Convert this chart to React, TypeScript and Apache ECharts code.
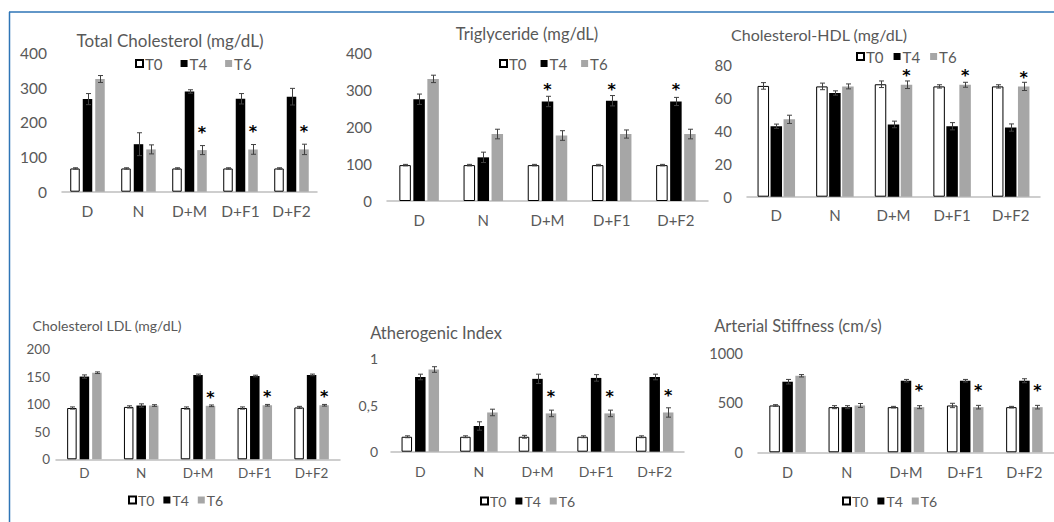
import React, { useEffect, useRef } from 'react';
import * as echarts from 'echarts';

const categories = ['D', 'N', 'D+M', 'D+F1', 'D+F2'];
const seriesNames = ['T0', 'T4', 'T6'];

// Total Cholesterol (mg/dL)
const tcT0 = [67, 67, 67, 67, 67];
const tcT4 = [267, 137, 289, 268, 274];
const tcT6 = [325, 122, 120, 122, 122];
const tcErrT0 = [2, 2, 2, 2, 2];
const tcErrT4 = [16, 33, 5, 15, 24];
const tcErrT6 = [10, 13, 13, 14, 15];
const tcStars = [false, false, true, true, true];

// Triglyceride (mg/dL)
const tgT0 = [97, 97, 97, 97, 97];
const tgT4 = [275, 118, 269, 271, 269];
const tgT6 = [330, 181, 177, 181, 181];
const tgErrT0 = [2, 2, 2, 2, 2];
const tgErrT4 = [14, 14, 14, 14, 11];
const tgErrT6 = [10, 13, 13, 11, 13];
const tgStars = [false, false, true, true, true];

// Cholesterol-HDL (mg/dL)
const hdlT0 = [67.3, 67, 68.3, 67, 67];
const hdlT4 = [42.8, 63, 43.9, 42.8, 42];
const hdlT6 = [47, 67, 68, 68, 67];
const hdlErrT0 = [2, 2, 2, 1, 1];
const hdlErrT4 = [1.3, 1.3, 2, 2.2, 2.2];
const hdlErrT6 = [2.5, 1.5, 2.3, 1.5, 2.5];
const hdlStars = [false, false, true, true, true];

// Cholesterol LDL (mg/dL)
const ldlT0 = [93, 95, 93, 93, 94];
const ldlT4 = [150, 97.5, 153, 151, 153];
const ldlT6 = [157, 97.5, 97, 98, 98];
const ldlErrT0 = [2, 2, 2, 2, 2];
const ldlErrT4 = [3, 3, 1.5, 1.5, 1.5];
const ldlErrT6 = [1.5, 1.5, 1.5, 1.5, 1.5];
const ldlStars = [false, false, true, true, true];

// Atherogenic Index
const aiT0 = [0.16, 0.16, 0.16, 0.16, 0.16];
const aiT4 = [0.8, 0.275, 0.78, 0.79, 0.8];
const aiT6 = [0.88, 0.42, 0.41, 0.41, 0.42];
const aiErrT0 = [0.01, 0.01, 0.015, 0.01, 0.01];
const aiErrT4 = [0.03, 0.045, 0.05, 0.035, 0.03];
const aiErrT6 = [0.03, 0.035, 0.035, 0.035, 0.05];
const aiStars = [false, false, true, true, true];

// Arterial Stiffness (cm/s)
const asT0 = [473, 456, 456, 473, 456];
const asT4 = [713, 456, 723, 723, 723];
const asT6 = [773, 473, 456, 456, 456];
const asErrT0 = [8, 15, 8, 22, 8];
const asErrT4 = [23, 15, 13, 13, 20];
const asErrT6 = [12, 20, 15, 18, 18];
const asStars = [false, false, true, true, true];

const FONT = 'Lato, "Noto Sans", sans-serif';
const STAR_FONT = '"DejaVu Sans", sans-serif';
const TEXT = '#595959';
const BAR_COLORS = ['#ffffff', '#000000', '#A6A6A6'];

type Panel = {
  title: string;
  titleX: number;
  titleY: number;
  titleSize: number;
  grid: { left: number; top: number; width: number; height: number };
  max: number;
  interval: number;
  labelSize: number;
  yMargin: number;
  xMargin: number;
  legendLeft: number;
  legendTop: number;
  legendGap: number;
  legendSize: number;
  barWidth: number;
  gap: number;
  values: number[][];
  errs: number[][];
  stars: boolean[];
  starSeries: number;
  starDist: number;
  comma?: boolean;
};

const panels: Panel[] = [
  {
    title: 'Total Cholesterol (mg/dL)', titleX: 170, titleY: 40, titleSize: 17,
    grid: { left: 62, top: 53, width: 255, height: 138.7 },
    max: 400, interval: 100, labelSize: 15.5, yMargin: 15, xMargin: 11,
    legendLeft: 130, legendTop: 51, legendGap: 18, legendSize: 15,
    barWidth: 9.5, gap: 3,
    values: [tcT0, tcT4, tcT6], errs: [tcErrT0, tcErrT4, tcErrT6],
    stars: tcStars, starSeries: 2, starDist: 14,
  },
  {
    title: 'Triglyceride (mg/dL)', titleX: 527, titleY: 34, titleSize: 16.5,
    grid: { left: 387, top: 53, width: 321, height: 148 },
    max: 400, interval: 100, labelSize: 15, yMargin: 15, xMargin: 11,
    legendLeft: 494, legendTop: 51, legendGap: 14, legendSize: 15,
    barWidth: 11.5, gap: 2.5,
    values: [tgT0, tgT4, tgT6], errs: [tgErrT0, tgErrT4, tgErrT6],
    stars: tgStars, starSeries: 1, starDist: 7.5,
  },
  {
    title: 'Cholesterol-HDL (mg/dL)', titleX: 819, titleY: 34, titleSize: 16,
    grid: { left: 747, top: 65, width: 293, height: 131.7 },
    max: 80, interval: 20, labelSize: 15, yMargin: 15, xMargin: 11,
    legendLeft: 851, legendTop: 44, legendGap: 10, legendSize: 15,
    barWidth: 11.5, gap: 1.5,
    values: [hdlT0, hdlT4, hdlT6], errs: [hdlErrT0, hdlErrT4, hdlErrT6],
    stars: hdlStars, starSeries: 2, starDist: 5,
  },
  {
    title: 'Cholesterol LDL (mg/dL)', titleX: 107, titleY: 325, titleSize: 14,
    grid: { left: 56, top: 349, width: 284, height: 110.3 },
    max: 200, interval: 50, labelSize: 13.5, yMargin: 6, xMargin: 7,
    legendLeft: 123, legendTop: 488, legendGap: 9, legendSize: 14,
    barWidth: 9.5, gap: 3,
    values: [ldlT0, ldlT4, ldlT6], errs: [ldlErrT0, ldlErrT4, ldlErrT6],
    stars: ldlStars, starSeries: 2, starDist: 4.5,
  },
  {
    title: 'Atherogenic Index', titleX: 436, titleY: 333, titleSize: 16.5,
    grid: { left: 391, top: 358.3, width: 293, height: 93.4 },
    max: 1, interval: 0.5, labelSize: 14, yMargin: 13, xMargin: 13,
    legendLeft: 475, legendTop: 489, legendGap: 9, legendSize: 14,
    barWidth: 10.5, gap: 3,
    values: [aiT0, aiT4, aiT6], errs: [aiErrT0, aiErrT4, aiErrT6],
    stars: aiStars, starSeries: 2, starDist: 13,
    comma: true,
  },
  {
    title: 'Arterial Stiffness (cm/s)', titleX: 798, titleY: 326, titleSize: 16.5,
    grid: { left: 758, top: 353.3, width: 296, height: 99 },
    max: 1000, interval: 500, labelSize: 14.5, yMargin: 15, xMargin: 13,
    legendLeft: 837, legendTop: 489, legendGap: 9, legendSize: 14,
    barWidth: 10.5, gap: 2.5,
    values: [asT0, asT4, asT6], errs: [asErrT0, asErrT4, asErrT6],
    stars: asStars, starSeries: 2, starDist: 13,
  },
];

function buildOption() {
  const grid: any[] = [];
  const xAxis: any[] = [];
  const yAxis: any[] = [];
  const legend: any[] = [];
  const series: any[] = [];
  const graphic: any[] = [];

  graphic.push({
    type: 'line', shape: { x1: 9, y1: 12, x2: 1054, y2: 12 },
    style: { stroke: '#2E75B6', lineWidth: 1.5 }, silent: true,
  });
  graphic.push({
    type: 'line', shape: { x1: 9.5, y1: 12, x2: 9.5, y2: 522 },
    style: { stroke: '#2E75B6', lineWidth: 1.5 }, silent: true,
  });

  panels.forEach((p, k) => {
    grid.push({ ...p.grid, containLabel: false });
    xAxis.push({
      type: 'category', gridIndex: k, data: categories,
      axisLine: { lineStyle: { color: '#BFBFBF', width: 1.5 } },
      axisTick: { show: false },
      axisLabel: { color: TEXT, fontSize: p.labelSize, fontFamily: FONT, margin: p.xMargin },
      splitLine: { show: false },
    });
    yAxis.push({
      type: 'value', gridIndex: k, min: 0, max: p.max, interval: p.interval,
      axisLine: { show: false }, axisTick: { show: false }, splitLine: { show: false },
      axisLabel: {
        color: TEXT, fontSize: p.labelSize, fontFamily: FONT, margin: p.yMargin,
        formatter: (v: number) => (p.comma ? String(v).replace('.', ',') : String(v)),
      },
    });
    legend.push({
      data: seriesNames, left: p.legendLeft, top: p.legendTop,
      itemWidth: 7, itemHeight: 7, itemGap: p.legendGap, icon: 'rect',
      textStyle: { color: TEXT, fontSize: p.legendSize, fontFamily: FONT, padding: [0, 0, 0, -3] },
      selectedMode: false,
    });
    graphic.push({
      type: 'text', x: p.titleX, y: p.titleY, silent: true,
      style: {
        text: p.title, fill: TEXT, font: `${p.titleSize}px ${FONT}`,
        textAlign: 'center', textVerticalAlign: 'middle',
      },
    });

    const step = p.barWidth + p.gap;
    p.values.forEach((vals, s) => {
      series.push({
        name: seriesNames[s], type: 'bar', xAxisIndex: k, yAxisIndex: k,
        barWidth: p.barWidth, barGap: `${((p.gap / p.barWidth) * 100).toFixed(2)}%`,
        itemStyle: {
          color: BAR_COLORS[s],
          borderColor: s === 0 ? '#000000' : BAR_COLORS[s],
          borderWidth: s === 0 ? 1 : 0,
        },
        label: { show: false },
        data: vals.map((v, i) =>
          s === p.starSeries && p.stars[i]
            ? {
                value: v,
                label: {
                  show: true, formatter: '*', position: 'top', distance: p.starDist,
                  color: '#000000', fontSize: 16, fontWeight: 'bold', fontFamily: STAR_FONT,
                  lineHeight: 8,
                },
              }
            : v
        ),
        z: 2,
      });
    });
    p.errs.forEach((errs, s) => {
      const offset = (s - 1) * step;
      series.push({
        name: `err-${k}-${s}`, type: 'custom', xAxisIndex: k, yAxisIndex: k,
        silent: true, clip: false, z: 5,
        encode: { x: 0, y: 1 },
        data: errs.map((e, i) => [i, p.values[s][i], e]),
        renderItem: (params: any, api: any) => {
          const idx = api.value(0);
          const m = api.value(1);
          const e = api.value(2);
          const top = api.coord([idx, m + e]);
          const bot = api.coord([idx, m - e]);
          const x = Math.round(top[0] + offset) + 0.5;
          const cap = 2.5;
          const st = { stroke: '#404040', lineWidth: 1 };
          return {
            type: 'group',
            children: [
              { type: 'line', shape: { x1: x, y1: top[1], x2: x, y2: bot[1] }, style: st },
              { type: 'line', shape: { x1: x - cap, y1: top[1], x2: x + cap, y2: top[1] }, style: st },
              { type: 'line', shape: { x1: x - cap, y1: bot[1], x2: x + cap, y2: bot[1] }, style: st },
            ],
          };
        },
      });
    });
  });

  return {
    animation: false,
    backgroundColor: '#ffffff',
    textStyle: { fontFamily: FONT },
    grid, xAxis, yAxis, legend, series, graphic,
  };
}

export default function App() {
  const ref = useRef<HTMLDivElement>(null);
  useEffect(() => {
    if (!ref.current) return;
    const chart = echarts.init(ref.current, undefined, { renderer: 'svg' });
    chart.setOption(buildOption() as any);
    return () => chart.dispose();
  }, []);
  return (
    <div
      ref={ref}
      style={{ position: 'absolute', left: 0, top: 0, width: 1054, height: 522 }}
    />
  );
}
